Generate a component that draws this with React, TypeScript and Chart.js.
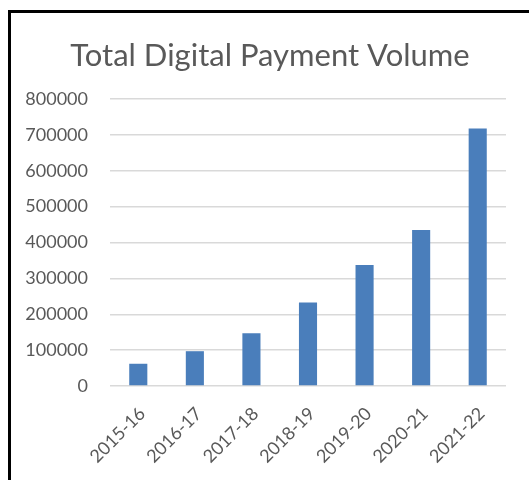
import React, { useEffect, useRef } from "react";
import { Chart, registerables } from "chart.js";

Chart.register(...registerables);

const title = "Total Digital Payment Volume";
const categories = ["2015-16", "2016-17", "2017-18", "2018-19", "2019-20", "2020-21", "2021-22"];
const volumes = [62000, 97000, 147000, 233000, 337000, 435000, 718000];
const yMin = 0;
const yMax = 800000;
const yStep = 100000;

const titlePlugin = {
  id: "pageTitle",
  afterDraw(chart: any) {
    const ctx = chart.ctx;
    ctx.save();
    ctx.font = "normal 31px Lato";
    ctx.fillStyle = "#595959";
    ctx.textAlign = "center";
    ctx.textBaseline = "alphabetic";
    ctx.fillText(title, 270, 66);
    ctx.restore();
  },
};

export default function App() {
  const ref = useRef<HTMLCanvasElement | null>(null);

  useEffect(() => {
    if (!ref.current) return;
    const chart = new Chart(ref.current, {
      type: "bar",
      data: {
        labels: categories,
        datasets: [
          {
            label: title,
            data: volumes,
            backgroundColor: "#4a7ebb",
            borderWidth: 0,
            categoryPercentage: 1,
            barPercentage: 0.32,
          },
        ],
      },
      options: {
        responsive: false,
        animation: false,
        layout: { padding: { left: 22, right: 23, top: 99, bottom: 9 } },
        plugins: {
          legend: { display: false },
          tooltip: { enabled: false },
          title: { display: false },
        },
        scales: {
          x: {
            grid: { display: false, drawTicks: false },
            border: { display: false },
            afterFit: (s: any) => {
              s.height = 85;
              s.paddingLeft = 0;
              s.paddingRight = 0;
            },
            ticks: {
              color: "#595959",
              font: { family: "Lato", size: 18 },
              maxRotation: 45,
              minRotation: 45,
              padding: 17,
              labelOffset: 4,
            },
          },
          y: {
            min: yMin,
            max: yMax,
            grid: { color: "#d9d9d9", lineWidth: 1.5, drawTicks: false },
            border: { display: false },
            afterFit: (s: any) => {
              s.width = 88;
            },
            ticks: {
              stepSize: yStep,
              color: "#595959",
              font: { family: "Lato", size: 18 },
              padding: 22,
              callback: (v: any) => String(v),
            },
          },
        },
      },
      plugins: [titlePlugin],
    });
    return () => chart.destroy();
  }, []);

  return (
    <>
      <div style={{ position: "absolute", left: 0, top: 0, width: 529, height: 480, background: "#fff" }}>
        <canvas ref={ref} width={529} height={480} style={{ display: "block", width: 529, height: 480 }} />
      </div>
      <div
        style={{
          position: "fixed",
          left: 8,
          top: 10,
          width: 700,
          height: 700,
          borderLeft: "3px solid #000",
          borderTop: "3px solid #000",
          pointerEvents: "none",
        }}
      />
    </>
  );
}
